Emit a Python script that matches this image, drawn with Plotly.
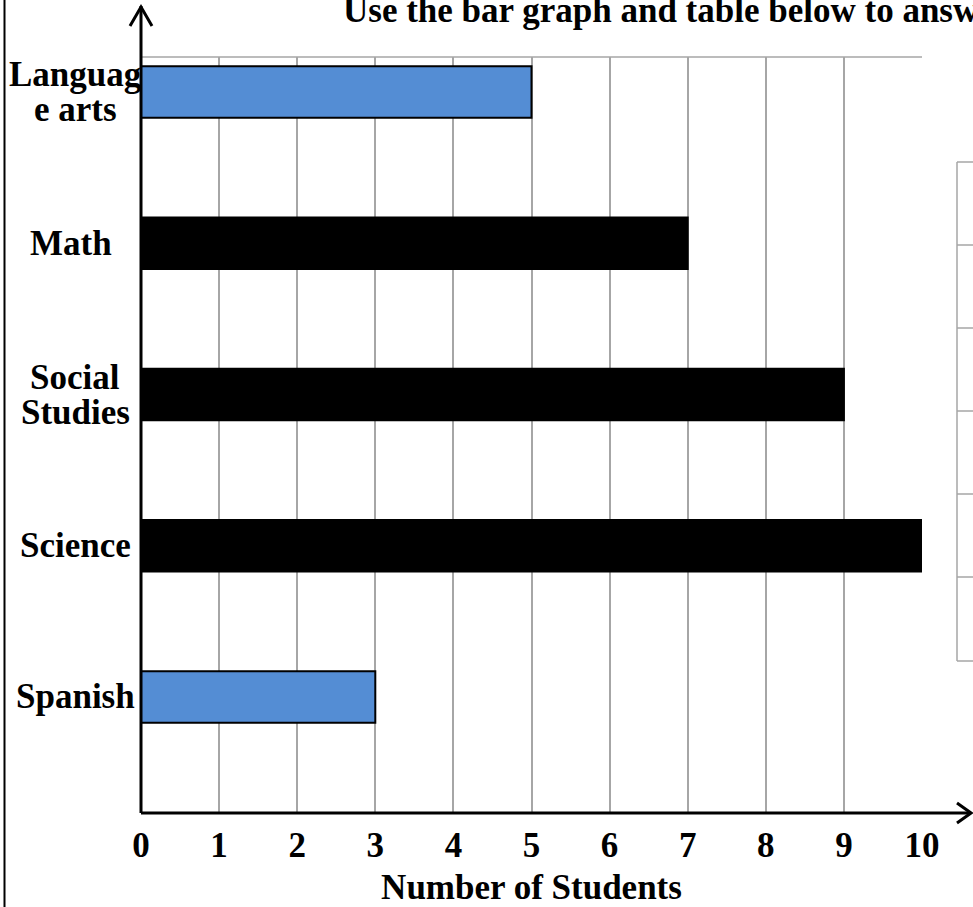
import plotly.graph_objects as go

categories = ["Languag<br>e arts", "Math\u00a0", "Social<br>Studies", "Science", "Spanish"]
values = [5, 7, 9, 10, 3]
bar_colors = ["#548DD4", "#000000", "#000000", "#000000", "#548DD4"]
line_colors = ["#000000", "#000000", "#000000", "#000000", "#000000"]
x_ticks = list(range(0, 11))
title_text = "Use the bar graph and table below to answer"
x_title = "Number of Students"

W, H = 973, 907
L, R, T, B = 141, 51, 57, 94
PW, PH = W - L - R, H - T - B

FONT = "Liberation Serif"


def px(x):
    return (x - L) / PW


def py(y):
    return (H - B - y) / PH


fig = go.Figure()
fig.add_trace(go.Bar(
    y=categories, x=values, orientation="h",
    marker=dict(color=bar_colors, line=dict(color=line_colors, width=2)),
    width=0.34,
    showlegend=False,
))

fig.update_layout(
    width=W, height=H,
    margin=dict(l=L, r=R, t=T, b=B, pad=0, autoexpand=False),
    paper_bgcolor="white", plot_bgcolor="white",
    font=dict(family=FONT, color="black"),
    xaxis=dict(
        range=[0, 10], tickvals=x_ticks, showgrid=True, gridcolor="#A6A6A6",
        gridwidth=1.5, zeroline=False, showline=False, automargin=False,
        tickfont=dict(family=FONT, size=35, weight="bold", color="black"),
        ticks="", ticklabelstandoff=8,
        title=dict(text=x_title, font=dict(family=FONT, size=35, weight="bold"), standoff=16),
        fixedrange=True,
    ),
    yaxis=dict(
        type="category", categoryorder="array", categoryarray=categories,
        range=[4.767, -0.2314], showgrid=False, zeroline=False, showline=False,
        showticklabels=False, fixedrange=True, automargin=False,
    ),
)

shapes = []
gray = dict(color="#A6A6A6", width=1.5)
black = dict(color="black", width=3)
# top border of the grid
shapes.append(dict(type="line", xref="paper", yref="paper", x0=0, x1=1, y0=1, y1=1, line=gray))
# y axis with arrow
shapes.append(dict(type="line", xref="paper", yref="paper", x0=0, x1=0, y0=py(813), y1=py(6), line=black))
shapes.append(dict(type="path", xref="paper", yref="paper",
                   path=f"M {px(130)} {py(26)} L {px(141)} {py(7)} L {px(152)} {py(26)}",
                   line=black))
# x axis with arrow
shapes.append(dict(type="line", xref="paper", yref="paper", x0=0, x1=px(971), y0=0, y1=0, line=black))
shapes.append(dict(type="path", xref="paper", yref="paper",
                   path=f"M {px(957)} {py(803)} L {px(971)} {py(813)} L {px(957)} {py(823)}",
                   line=black))
# left page border
shapes.append(dict(type="line", xref="paper", yref="paper", x0=px(4.5), x1=px(4.5), y0=py(0), y1=py(907),
                   line=dict(color="black", width=2)))
# partial table at right
table_rows = [162, 245, 328, 411, 494, 577, 661]
shapes.append(dict(type="line", xref="paper", yref="paper", x0=px(957), x1=px(957),
                   y0=py(table_rows[0]), y1=py(table_rows[-1]), line=gray))
for r in table_rows:
    shapes.append(dict(type="line", xref="paper", yref="paper", x0=px(957), x1=px(975),
                       y0=py(r), y1=py(r), line=gray))
fig.update_layout(shapes=shapes)

annotations = []
annotations.append(dict(text=title_text, xref="paper", yref="paper", x=px(341), y=py(11),
                        xanchor="left", yanchor="middle", showarrow=False,
                        font=dict(family=FONT, size=35, weight="bold", color="black")))
for cat in categories:
    lines = cat.split("<br>")
    n = len(lines)
    for i, ln in enumerate(lines):
        annotations.append(dict(text=ln, xref="paper", yref="y", x=px(75), y=cat,
                                xanchor="center", yanchor="middle", showarrow=False,
                                yshift=((n - 1) / 2 - i) * 35,
                                font=dict(family=FONT, size=35, weight="bold", color="black")))
fig.update_layout(annotations=annotations)

fig.write_html("out.html", config={"displayModeBar": False},
               post_script="document.body.style.margin='0px';")
